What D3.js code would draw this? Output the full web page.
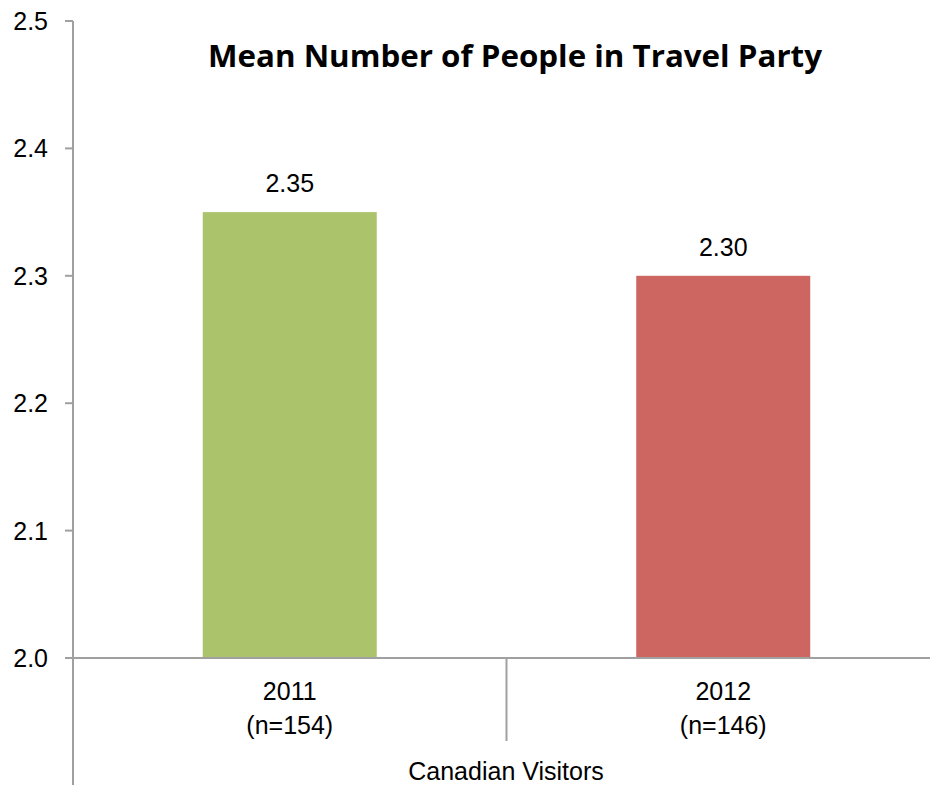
<!DOCTYPE html>
<html>
<head>
<meta charset="utf-8">
<script src="https://cdn.jsdelivr.net/npm/d3@7"></script>
<style>
  body { margin: 0; background: #fff; }
  svg { display: block; }
</style>
</head>
<body>
<div id="chart"></div>
<script>
const years = ["2011", "2012"];
const sampleSizes = ["(n=154)", "(n=146)"];
const means = [2.35, 2.30];
const barColors = ["#abc46c", "#cd6660"];
const yTicks = [2.0, 2.1, 2.2, 2.3, 2.4, 2.5];
const groupLabel = "Canadian Visitors";
const title = "Mean Number of People in Travel Party";

const W = 930, H = 785;
const plotLeft = 73, plotRight = 940, plotTop = 21, plotBottom = 658;
const font = "Liberation Sans, Arial, sans-serif";
const fs = 25;

const svg = d3.select("#chart").append("svg")
  .attr("width", W).attr("height", H);

const y = d3.scaleLinear().domain([2.0, 2.5]).range([plotBottom, plotTop]);
const x = d3.scaleBand().domain(years).range([plotLeft, plotRight]).paddingInner(0).paddingOuter(0);
const barW = 174;

const axisColor = "#a0a0a0";

// y axis
svg.append("line")
  .attr("x1", plotLeft).attr("x2", plotLeft)
  .attr("y1", plotTop).attr("y2", H)
  .attr("stroke", axisColor).attr("stroke-width", 2);

svg.selectAll(".ytick").data(yTicks).enter().append("line")
  .attr("x1", plotLeft - 8).attr("x2", plotLeft)
  .attr("y1", d => y(d)).attr("y2", d => y(d))
  .attr("stroke", axisColor).attr("stroke-width", 2);

svg.selectAll(".ylab").data(yTicks).enter().append("text")
  .attr("x", 48).attr("y", d => y(d))
  .attr("dy", "0.36em")
  .attr("text-anchor", "end")
  .attr("font-family", font)
  .attr("font-size", fs)
  .attr("fill", "#000")
  .text(d => d.toFixed(1));

// bars
svg.selectAll(".bar").data(years).enter().append("rect")
  .attr("x", d => x(d) + x.bandwidth() / 2 - barW / 2)
  .attr("y", (d, i) => y(means[i]))
  .attr("width", barW)
  .attr("height", (d, i) => plotBottom - y(means[i]))
  .attr("fill", (d, i) => barColors[i]);

svg.selectAll(".val").data(years).enter().append("text")
  .attr("x", d => x(d) + x.bandwidth() / 2)
  .attr("y", (d, i) => y(means[i]) - 20)
  .attr("text-anchor", "middle")
  .attr("font-family", font)
  .attr("font-size", fs)
  .text((d, i) => means[i].toFixed(2));

// x axis
svg.append("line")
  .attr("x1", plotLeft - 8).attr("x2", W)
  .attr("y1", plotBottom).attr("y2", plotBottom)
  .attr("stroke", axisColor).attr("stroke-width", 2);

svg.append("line")
  .attr("x1", x(years[1])).attr("x2", x(years[1]))
  .attr("y1", plotBottom).attr("y2", 741)
  .attr("stroke", axisColor).attr("stroke-width", 2);

const cat = svg.selectAll(".cat").data(years).enter().append("text")
  .attr("text-anchor", "middle")
  .attr("font-family", font)
  .attr("font-size", fs);
cat.append("tspan")
  .attr("x", d => x(d) + x.bandwidth() / 2)
  .attr("y", 700)
  .text(d => d);
cat.append("tspan")
  .attr("x", d => x(d) + x.bandwidth() / 2)
  .attr("y", 734)
  .text((d, i) => sampleSizes[i]);

svg.append("text")
  .attr("x", 506).attr("y", 780)
  .attr("text-anchor", "middle")
  .attr("font-family", font)
  .attr("font-size", fs)
  .text(groupLabel);

svg.append("text")
  .attr("x", 515).attr("y", 67)
  .attr("text-anchor", "middle")
  .attr("font-family", "Open Sans, sans-serif")
  .attr("font-weight", "bold")
  .attr("font-size", 31)
  .attr("textLength", 614)
  .attr("lengthAdjust", "spacingAndGlyphs")
  .text(title);
</script>
</body>
</html>
